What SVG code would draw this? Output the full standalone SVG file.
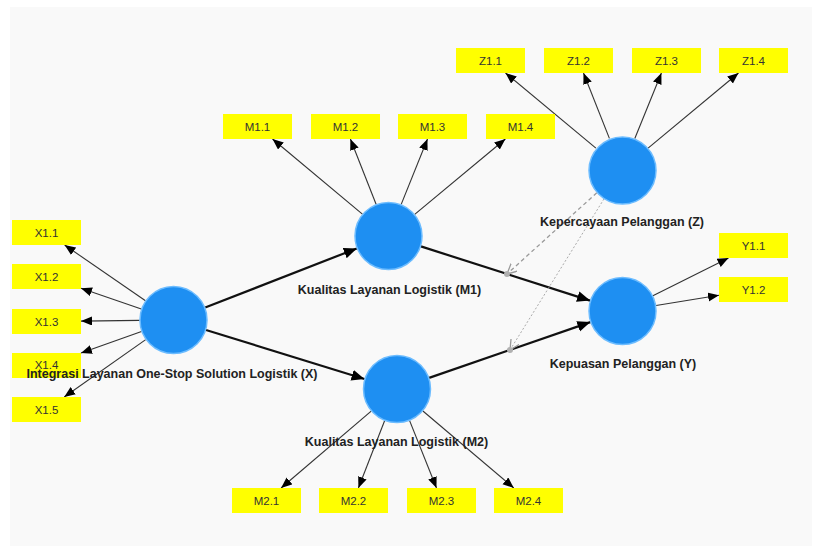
<svg xmlns="http://www.w3.org/2000/svg" width="814" height="546" viewBox="0 0 814 546">
<style>
.bg{fill:#f9f9f9}
.lv{fill:#1e8ff2;stroke:#6cbcff;stroke-width:1.5}
.ind rect{fill:#ffff00}
.ind text{font-family:"Liberation Sans",Arial,sans-serif;font-size:11.5px;fill:#333;text-anchor:middle}
.lbl{font-family:"Liberation Sans",Arial,sans-serif;font-size:12.5px;font-weight:bold;fill:#222;text-anchor:middle}
.thin{stroke:#333;stroke-width:1.1;fill:none;marker-end:url(#ah)}
.thick{stroke:#111;stroke-width:2.2;fill:none;marker-end:url(#ahb)}
.mod1{stroke:#9a9a9a;stroke-width:1.3;stroke-dasharray:4 3;fill:none;marker-end:url(#ag)}
.mod2{stroke:#aaaaaa;stroke-width:1;stroke-dasharray:2 2;fill:none;marker-end:url(#ag)}
</style>
<defs>
<marker id="ah" markerUnits="userSpaceOnUse" markerWidth="12" markerHeight="10" refX="11" refY="4.5" orient="auto">
<path d="M0,0 L11,4.5 L0,9 Z" fill="#000"/>
</marker>
<marker id="ahb" markerUnits="userSpaceOnUse" markerWidth="14" markerHeight="12" refX="13" refY="5.5" orient="auto">
<path d="M0,0 L13,5.5 L0,11 Z" fill="#000"/>
</marker>
<marker id="ag" markerUnits="userSpaceOnUse" markerWidth="12" markerHeight="12" refX="10" refY="5" orient="auto">
<path d="M0,0 L10,5 L0,10" fill="none" stroke="#9a9a9a" stroke-width="1.3"/>
</marker>
</defs>
<rect x="0" y="0" width="814" height="546" fill="#fff"/>
<rect class="bg" x="10" y="7" width="802" height="539"/>

<g id="connectors">
<line class="thin" x1="595.9" y1="148.2" x2="505.5" y2="73"/>
<line class="thin" x1="609.4" y1="138.4" x2="583.5" y2="73"/>
<line class="thin" x1="634.8" y1="138.5" x2="661.4" y2="73"/>
<line class="thin" x1="648.1" y1="148.2" x2="738.5" y2="73"/>
<line class="thin" x1="362.4" y1="214.2" x2="272.5" y2="139"/>
<line class="thin" x1="376.1" y1="204.3" x2="350.4" y2="139"/>
<line class="thin" x1="401.2" y1="204.4" x2="427.5" y2="139"/>
<line class="thin" x1="414.7" y1="214.3" x2="505.4" y2="139"/>
<line class="thin" x1="145.5" y1="300.7" x2="64.6" y2="245"/>
<line class="thin" x1="141.3" y1="309" x2="81" y2="288.3"/>
<line class="thin" x1="139.5" y1="320.4" x2="81" y2="321.1"/>
<line class="thin" x1="141.5" y1="331.5" x2="81" y2="353.1"/>
<line class="thin" x1="145.7" y1="339.6" x2="64.2" y2="397"/>
<line class="thin" x1="652.9" y1="295.8" x2="728.5" y2="258"/>
<line class="thin" x1="656.1" y1="305.5" x2="719" y2="295.2"/>
<line class="thin" x1="371.2" y1="411.1" x2="281.1" y2="488"/>
<line class="thin" x1="384.6" y1="420.7" x2="358.4" y2="488"/>
<line class="thin" x1="409.6" y1="420.6" x2="436.5" y2="488"/>
<line class="thin" x1="422.9" y1="411" x2="513.8" y2="488"/>
<line class="thick" x1="205.2" y1="307.6" x2="356.8" y2="248.4"/>
<line class="thick" x1="206" y1="330" x2="364.5" y2="379"/>
<line class="thick" x1="420.9" y1="246.4" x2="590.1" y2="300.6"/>
<line class="thick" x1="429.1" y1="377.9" x2="590.4" y2="322.1"/>
<line class="mod1" x1="596.8" y1="192.8" x2="507" y2="274"/>
<line class="mod2" x1="604" y1="198.9" x2="510" y2="350"/>
<circle cx="507" cy="274" r="3" fill="#b0b0b0"/>
<circle cx="510" cy="350" r="3" fill="#b0b0b0"/>
</g>

<g id="node-Z">
<circle class="lv" cx="622.5" cy="170.5" r="33.5"/>
<text class="lbl" x="622" y="226">Kepercayaan Pelanggan (Z)</text>
</g>
<g id="node-M1">
<circle class="lv" cx="388.5" cy="236" r="33.5"/>
<text class="lbl" x="389.5" y="294">Kualitas Layanan Logistik (M1)</text>
</g>
<g id="node-X">
<circle class="lv" cx="173.5" cy="320" r="33.5"/>
</g>
<g id="node-Y">
<circle class="lv" cx="622.5" cy="311" r="33.5"/>
<text class="lbl" x="623" y="368">Kepuasan Pelanggan (Y)</text>
</g>
<g id="node-M2">
<circle class="lv" cx="397" cy="389" r="33.5"/>
</g>

<g id="ind-Z" class="ind">
<g id="Z1.1"><rect x="456" y="48" width="69" height="25"/><text x="490.5" y="64.5">Z1.1</text></g>
<g id="Z1.2"><rect x="544" y="48" width="69" height="25"/><text x="578.5" y="64.5">Z1.2</text></g>
<g id="Z1.3"><rect x="632" y="48" width="69" height="25"/><text x="666.5" y="64.5">Z1.3</text></g>
<g id="Z1.4"><rect x="719" y="48" width="69" height="25"/><text x="753.5" y="64.5">Z1.4</text></g>
</g>
<g id="ind-M1" class="ind">
<g id="M1.1"><rect x="223" y="114" width="69" height="25"/><text x="257.5" y="130.5">M1.1</text></g>
<g id="M1.2"><rect x="311" y="114" width="69" height="25"/><text x="345.5" y="130.5">M1.2</text></g>
<g id="M1.3"><rect x="398" y="114" width="69" height="25"/><text x="432.5" y="130.5">M1.3</text></g>
<g id="M1.4"><rect x="486" y="114" width="69" height="25"/><text x="520.5" y="130.5">M1.4</text></g>
</g>
<g id="ind-X" class="ind">
<g id="X1.1"><rect x="12" y="220" width="69" height="25"/><text x="46.5" y="236.5">X1.1</text></g>
<g id="X1.2"><rect x="12" y="264" width="69" height="25"/><text x="46.5" y="280.5">X1.2</text></g>
<g id="X1.3"><rect x="12" y="309" width="69" height="25"/><text x="46.5" y="325.5">X1.3</text></g>
<g id="X1.4"><rect x="12" y="353" width="69" height="25"/><text x="46.5" y="368.5">X1.4</text></g>
<g id="X1.5"><rect x="12" y="397" width="69" height="25"/><text x="46.5" y="413.5">X1.5</text></g>
</g>
<g id="ind-Y" class="ind">
<g id="Y1.1"><rect x="719" y="233" width="69" height="25"/><text x="753.5" y="249.5">Y1.1</text></g>
<g id="Y1.2"><rect x="719" y="277" width="69" height="25"/><text x="753.5" y="293.5">Y1.2</text></g>
</g>
<g id="ind-M2" class="ind">
<g id="M2.1"><rect x="232" y="488" width="69" height="25"/><text x="266.5" y="504.5">M2.1</text></g>
<g id="M2.2"><rect x="319" y="488" width="69" height="25"/><text x="353.5" y="504.5">M2.2</text></g>
<g id="M2.3"><rect x="407" y="488" width="69" height="25"/><text x="441.5" y="504.5">M2.3</text></g>
<g id="M2.4"><rect x="494" y="488" width="69" height="25"/><text x="528.5" y="504.5">M2.4</text></g>
</g>

<g id="labels-top">
<text class="lbl" x="172" y="378">Integrasi Layanan One-Stop Solution Logistik (X)</text>
<text class="lbl" x="396.5" y="446">Kualitas Layanan Logistik (M2)</text>
</g>
</svg>
